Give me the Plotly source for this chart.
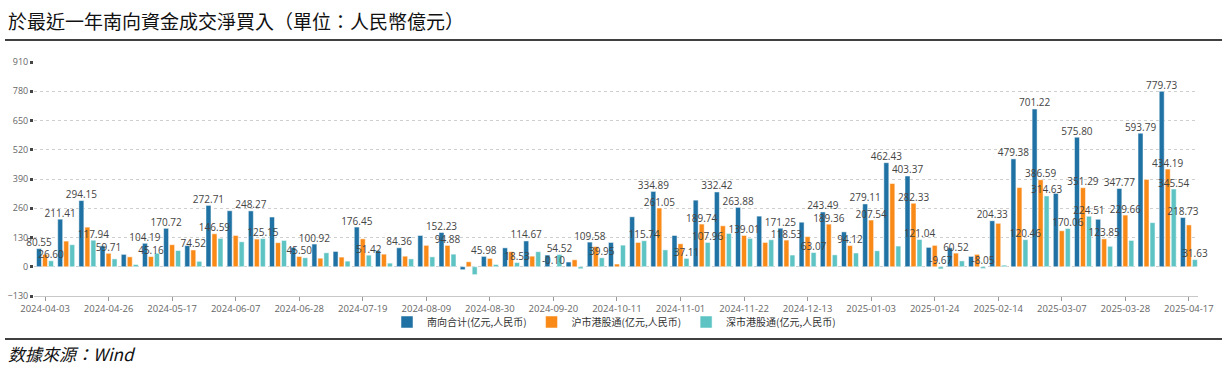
import plotly.graph_objects as go

dates = [
    "2024-04-03", "2024-04-12", "2024-04-19", "2024-04-26", "2024-05-03", "2024-05-10",
    "2024-05-17", "2024-05-24", "2024-05-31", "2024-06-07", "2024-06-14", "2024-06-21",
    "2024-06-28", "2024-07-05", "2024-07-12", "2024-07-19", "2024-07-26", "2024-08-02",
    "2024-08-09", "2024-08-16", "2024-08-23", "2024-08-30", "2024-09-06", "2024-09-13",
    "2024-09-20", "2024-09-27", "2024-10-04", "2024-10-11", "2024-10-18", "2024-10-25",
    "2024-11-01", "2024-11-08", "2024-11-15", "2024-11-22", "2024-11-29", "2024-12-06",
    "2024-12-13", "2024-12-20", "2024-12-27", "2025-01-03", "2025-01-10", "2025-01-17",
    "2025-01-24", "2025-01-31", "2025-02-07", "2025-02-14", "2025-02-21", "2025-02-28",
    "2025-03-07", "2025-03-14", "2025-03-21", "2025-03-28", "2025-04-04", "2025-04-11",
    "2025-04-17",
]

south_total = [
    80.55, 211.41, 294.15, 93, 55, 104.19, 170.72, 94, 272.71, 249, 248.27, 221,
    86, 100.92, 68, 176.45, 72, 84.36, 139, 152.23, -13, 45.98, 84, 114.67,
    52, 21, 109.58, 108, 222, 334.89, 139, 296, 332.42, 263.88, 225, 171.25,
    198, 243.49, 155, 279.11, 462.43, 403.37, 86, 84, 46, 204.33, 479.38, 701.22,
    326, 575.80, 211, 347.77, 593.79, 779.73, 218.73,
]
sh_connect = [
    55, 114, 176, 59.71, 44, 45.16, 98, 74.52, 146.59, 139, 123, 107,
    45.50, 38, 43, 124, 56, 47, 95, 94.88, 22, 37, 67, 47,
    -0.10, 31, 90, 12, 108, 261.05, 102, 189.74, 182, 139.01, 108, 118.53,
    134, 189.36, 94.12, 207.54, 370, 282.33, 95, 60.52, 55, 193, 352, 386.59,
    160, 351.29, 123.85, 229.66, 388, 434.19, 186,
]
sz_connect = [
    26.60, 98, 117.94, 35, 10, 60, 72, 24, 126, 111, 125.15, 117,
    40, 62, 25, 51.42, 16, 35, 44, 56, -35, 10, 18.53, 67,
    54.52, -9, 39.95, 96, 115.74, 75, 37.11, 107.96, 148, 126, 120, 52,
    63.07, 53, 61, 71, 92, 121.04, -9.67, 26, -8.05, 7, 120.46, 314.63,
    170.06, 224.51, 91, 117, 196, 345.54, 31.63,
]

# indices (0-based) of bars that carry a value label in the reference
south_labeled = [0, 1, 2, 5, 6, 8, 10, 13, 15, 17, 19, 21, 23, 26, 29, 32, 33, 35,
                 37, 39, 40, 41, 45, 46, 47, 49, 51, 52, 53, 54]
sh_labeled = [3, 5, 7, 8, 12, 19, 24, 29, 31, 33, 35, 37, 38, 39, 41, 43, 47, 49,
              50, 51, 53]
sz_labeled = [0, 2, 10, 15, 22, 24, 26, 28, 30, 31, 36, 41, 42, 44, 46, 47, 48, 49,
              53, 54]

series_names = ["南向合计(亿元,人民币)", "沪市港股通(亿元,人民币)", "深市港股通(亿元,人民币)"]
colors = ["#1F72A3", "#FA8A18", "#5EC3C3"]

tick_step = 3
x = list(range(len(dates)))
bargap = 0.15
slot = (1 - bargap) / 3

fig = go.Figure()
all_series = [south_total, sh_connect, sz_connect]
all_labeled = [south_labeled, sh_labeled, sz_labeled]
for k, (vals, name, col) in enumerate(zip(all_series, series_names, colors)):
    fig.add_trace(go.Bar(
        x=x, y=vals, name=name, marker=dict(color=col, line=dict(color="white", width=0.5)),
        hoverinfo="y",
    ))
for k, (vals, lab) in enumerate(zip(all_series, all_labeled)):
    off = (k - 1) * slot
    fig.add_trace(go.Scatter(
        x=[i + off for i in lab], y=[max(vals[i], 0) for i in lab],
        text=[f"{vals[i]:.2f}" for i in lab], mode="text", textposition="top center",
        textfont=dict(family="Open Sans", size=10, color="#444"),
        showlegend=False, cliponaxis=False, hoverinfo="skip",
    ))

px0, px1 = 34, 1198
py_top, py_bot = 62, 296
pw = px1 - px0
ph = py_bot - py_top


def xp(px):
    return (px - px0) / pw


def yp(py):
    return (py_bot - py) / ph


fig.update_layout(
    width=1226, height=380,
    margin=dict(l=px0, r=1226 - px1, t=py_top, b=380 - py_bot, autoexpand=False),
    paper_bgcolor="white", plot_bgcolor="white",
    barmode="group", bargap=bargap, bargroupgap=0.17,
    font=dict(family="Noto Sans CJK SC", color="#333"),
    showlegend=True,
    legend=dict(orientation="h", x=xp(614), xanchor="center", y=yp(322), yanchor="middle",
                font=dict(family="Noto Sans CJK SC", size=10, color="#333"),
                bgcolor="rgba(0,0,0,0)", itemwidth=30, traceorder="normal"),
    xaxis=dict(
        range=[-0.52, len(dates) - 0.57],
        tickvals=x[::tick_step], ticktext=dates[::tick_step],
        showgrid=False, zeroline=False, automargin=False,
        showline=True, linecolor="#C8C8C8", linewidth=1,
        ticks="outside", ticklen=4, tickcolor="#999",
        tickfont=dict(family="Open Sans", size=9.5, color="#666"),
    ),
    yaxis=dict(
        range=[-130, 910], dtick=130, tick0=0, automargin=False,
        showgrid=True, gridcolor="#CFCFCF", griddash="dot", gridwidth=1,
        zeroline=False, showline=False,
        ticks="outside", ticklen=3, tickwidth=3, tickcolor="#444",
        tickfont=dict(family="Open Sans", size=9, color="#666"),
    ),
    annotations=[
        dict(text="於最近一年南向資金成交淨買入（單位：人民幣億元）", xref="paper", yref="paper",
             x=xp(6), y=yp(21), xanchor="left", yanchor="middle", showarrow=False,
             font=dict(family="Noto Sans CJK TC", size=19, color="#111")),
        dict(text="<i>数據來源：Wind</i>", xref="paper", yref="paper",
             x=xp(6), y=yp(353), xanchor="left", yanchor="middle", showarrow=False,
             font=dict(family="Noto Sans CJK TC", size=17, color="#111")),
    ],
    shapes=[
        dict(type="line", xref="paper", yref="paper", x0=xp(5), x1=xp(1222),
             y0=yp(40), y1=yp(40), line=dict(color="black", width=1.5)),
        dict(type="line", xref="paper", yref="paper", x0=xp(5), x1=xp(1222),
             y0=yp(339), y1=yp(339), line=dict(color="black", width=1.5)),
    ],
)

fig.write_html("out.html", config={"displayModeBar": False},
               post_script="document.body.style.margin='0';")
